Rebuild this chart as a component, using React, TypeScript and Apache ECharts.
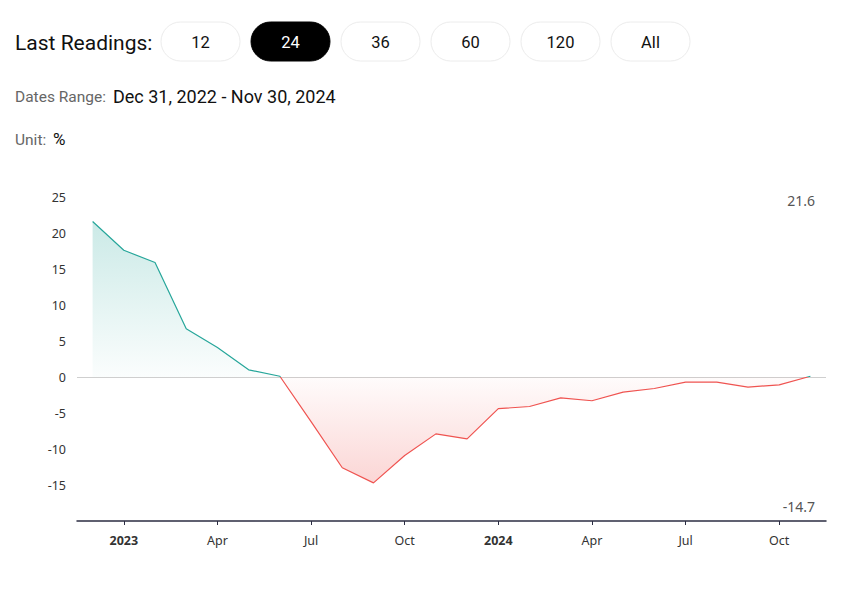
import React, { useEffect, useRef } from "react";
import * as echarts from "echarts";

const categories = [
  "Dec 2022", "Jan 2023", "Feb 2023", "Mar 2023", "Apr 2023", "May 2023", "Jun 2023",
  "Jul 2023", "Aug 2023", "Sep 2023", "Oct 2023", "Nov 2023", "Dec 2023", "Jan 2024",
  "Feb 2024", "Mar 2024", "Apr 2024", "May 2024", "Jun 2024", "Jul 2024", "Aug 2024",
  "Sep 2024", "Oct 2024", "Nov 2024",
];
const values = [
  21.6, 17.6, 15.9, 6.7, 4.1, 1.0, 0.1, -6.2, -12.6, -14.7, -10.9, -7.9,
  -8.6, -4.4, -4.1, -2.9, -3.3, -2.1, -1.6, -0.7, -0.7, -1.4, -1.1, 0.1,
];
const tickLabels: Record<number, string> = {
  1: "2023", 4: "Apr", 7: "Jul", 10: "Oct", 13: "2024", 16: "Apr", 19: "Jul", 22: "Oct",
};
const yearLabels = ["2023", "2024"];
const buttons = ["12", "24", "36", "60", "120", "All"];
const activeButton = "24";
const datesRange = "Dec 31, 2022 - Nov 30, 2024";
const unit = "%";

const FONT = "Roboto, 'Noto Sans', sans-serif";
const AXIS_FONT = "'Noto Sans', 'DejaVu Sans', sans-serif";

export default function App() {
  const ref = useRef<HTMLDivElement>(null);
  useEffect(() => {
    document.body.style.margin = "0";
    if (!ref.current) return;
    const chart = echarts.init(ref.current, null, { renderer: "svg" });
    const maxV = Math.max(...values);
    const minV = Math.min(...values);
    const zeroOff = maxV / (maxV - minV);

    const buttonGraphics: any[] = buttons.map((b, i) => {
      const active = b === activeButton;
      return {
        type: "group",
        x: 161 + i * 90,
        y: 22,
        children: [
          {
            type: "rect",
            shape: { x: 0, y: 0, width: 79, height: 39, r: 19.5 },
            style: { fill: active ? "#000" : "#fff", stroke: active ? "#000" : "#ececec", lineWidth: 1 },
          },
          {
            type: "text",
            x: 39.5,
            y: 20,
            style: {
              text: b,
              fill: active ? "#fff" : "#111",
              font: `400 16.5px ${FONT}`,
              align: "center",
              verticalAlign: "middle",
            },
          },
        ],
      };
    });

    const splitColors = [-20, -15, -10, -5, 0, 5, 10, 15, 20, 25].map((v) =>
      v === 0 ? "#cfcfcf" : "rgba(0,0,0,0)"
    );

    chart.setOption({
      animation: false,
      backgroundColor: "#fff",
      grid: { left: 77, right: 16, top: 197, bottom: 70 },
      xAxis: {
        type: "category",
        data: categories,
        boundaryGap: true,
        axisLine: { onZero: false, lineStyle: { color: "#2b2d42", width: 1.5 } },
        axisTick: {
          show: true,
          alignWithLabel: true,
          length: 4,
          interval: (i: number) => tickLabels[i] !== undefined,
          lineStyle: { color: "#2b2d42" },
        },
        axisLabel: {
          interval: (i: number) => tickLabels[i] !== undefined,
          margin: 13,
          color: "#333",
          fontFamily: AXIS_FONT,
          fontSize: 12.5,
          formatter: (_v: string, i: number) => {
            const t = tickLabels[i] || "";
            return yearLabels.includes(t) ? `{b|${t}}` : t;
          },
          rich: { b: { fontWeight: "bold", fontSize: 12.5, fontFamily: AXIS_FONT, color: "#333" } },
        },
        splitLine: { show: false },
      },
      yAxis: {
        type: "value",
        min: -20,
        max: 25,
        interval: 5,
        axisLine: { show: false },
        axisTick: { show: false },
        splitLine: { show: true, lineStyle: { color: splitColors, width: 1, type: "solid" } },
        axisLabel: {
          color: "#333",
          fontFamily: AXIS_FONT,
          fontSize: 12.5,
          margin: 11,
          formatter: (v: number) => (v === -20 ? "" : String(v)),
        },
      },
      series: [
        {
          type: "line",
          data: values,
          showSymbol: false,
          symbol: "none",
          lineStyle: {
            width: 1.2,
            color: new echarts.graphic.LinearGradient(0, 0, 0, 1, [
              { offset: 0, color: "#26a69a" },
              { offset: zeroOff, color: "#26a69a" },
              { offset: zeroOff, color: "#ef5350" },
              { offset: 1, color: "#ef5350" },
            ]),
          },
          areaStyle: {
            opacity: 1,
            color: new echarts.graphic.LinearGradient(0, 0, 0, 1, [
              { offset: 0, color: "rgba(38,166,154,0.24)" },
              { offset: zeroOff, color: "rgba(38,166,154,0.02)" },
              { offset: zeroOff, color: "rgba(239,83,80,0.02)" },
              { offset: 1, color: "rgba(239,83,80,0.24)" },
            ]),
          },
          z: 3,
        },
      ],
      graphic: [
        {
          type: "text",
          x: 15,
          y: 43,
          style: { text: "Last Readings:", font: `400 21px ${FONT}`, fill: "#111", verticalAlign: "middle" },
        },
        ...buttonGraphics,
        {
          type: "text",
          x: 15,
          y: 97,
          style: { text: "Dates Range:", font: `400 15.5px ${FONT}`, fill: "#666", verticalAlign: "middle" },
        },
        {
          type: "text",
          x: 113,
          y: 96,
          style: { text: datesRange, font: `400 18px ${FONT}`, fill: "#111", verticalAlign: "middle" },
        },
        {
          type: "text",
          x: 15,
          y: 140,
          style: { text: "Unit:", font: `400 15.5px ${FONT}`, fill: "#666", verticalAlign: "middle" },
        },
        {
          type: "text",
          x: 53,
          y: 139,
          style: { text: unit, font: `400 17px ${FONT}`, fill: "#111", verticalAlign: "middle" },
        },
        {
          type: "text",
          right: 27,
          top: 193,
          style: { text: maxV.toFixed(1), font: `400 14px ${AXIS_FONT}`, fill: "#555" },
        },
        {
          type: "text",
          right: 27,
          top: 499,
          style: { text: minV.toFixed(1), font: `400 14px ${AXIS_FONT}`, fill: "#555" },
        },
      ],
    });
    return () => chart.dispose();
  }, []);
  return (
    <div
      ref={ref}
      style={{ position: "fixed", left: 0, top: 0, width: 842, height: 591, background: "#fff" }}
    />
  );
}
